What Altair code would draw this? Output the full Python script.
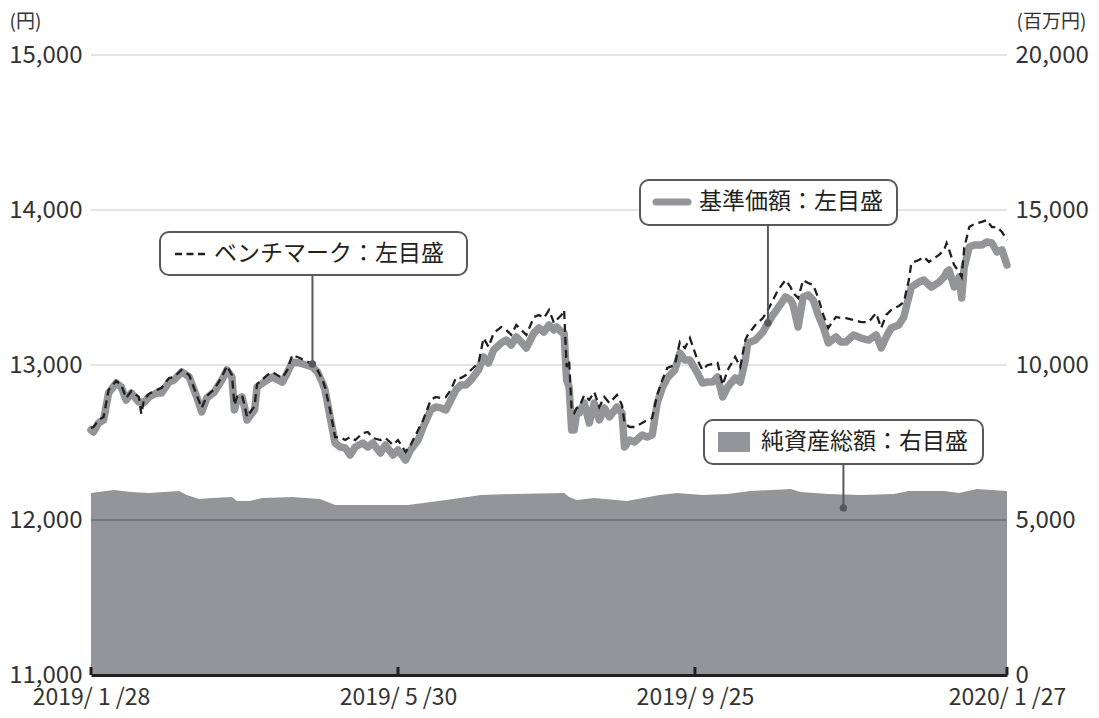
import altair as alt
import pandas as pd

FONT = "Noto Sans CJK JP"
TXT = "#231f20"
LBL = "#333333"
GRAY = "#939598"
DARK = "#58595b"

# ---- data ----
dates = [
    "2019/01/28", "2019/01/29", "2019/01/31", "2019/02/02", "2019/02/04", "2019/02/07", "2019/02/09", "2019/02/11",
    "2019/02/13", "2019/02/16", "2019/02/17", "2019/02/18", "2019/02/20", "2019/02/23", "2019/02/25", "2019/02/28",
    "2019/03/02", "2019/03/05", "2019/03/08", "2019/03/11", "2019/03/13", "2019/03/15", "2019/03/18", "2019/03/21",
    "2019/03/23", "2019/03/25", "2019/03/26", "2019/03/27", "2019/03/29", "2019/03/30", "2019/03/31",
    "2019/04/03", "2019/04/04", "2019/04/08", "2019/04/10", "2019/04/14", "2019/04/16", "2019/04/18", "2019/04/21",
    "2019/04/26", "2019/04/28", "2019/04/30",
    "2019/05/01", "2019/05/03", "2019/05/05", "2019/05/07", "2019/05/09", "2019/05/11", "2019/05/13", "2019/05/16",
    "2019/05/18", "2019/05/20", "2019/05/23", "2019/05/25", "2019/05/28", "2019/05/30",
    "2019/06/02", "2019/06/04", "2019/06/07", "2019/06/09", "2019/06/12", "2019/06/14", "2019/06/16", "2019/06/18",
    "2019/06/20", "2019/06/22", "2019/06/24", "2019/06/26", "2019/06/28",
    "2019/07/01", "2019/07/03", "2019/07/05", "2019/07/07", "2019/07/10", "2019/07/12", "2019/07/14", "2019/07/16",
    "2019/07/18", "2019/07/20", "2019/07/23", "2019/07/25", "2019/07/27", "2019/07/29", "2019/07/31",
    "2019/08/01", "2019/08/03", "2019/08/04", "2019/08/05", "2019/08/06", "2019/08/07", "2019/08/08", "2019/08/09",
    "2019/08/10", "2019/08/12", "2019/08/14", "2019/08/16", "2019/08/18", "2019/08/20", "2019/08/22", "2019/08/25",
    "2019/08/27", "2019/08/28", "2019/08/30",
    "2019/09/01", "2019/09/04", "2019/09/06", "2019/09/08", "2019/09/10", "2019/09/12", "2019/09/14", "2019/09/17",
    "2019/09/19", "2019/09/21", "2019/09/23", "2019/09/26", "2019/09/28", "2019/09/30",
    "2019/10/02", "2019/10/04", "2019/10/06", "2019/10/08", "2019/10/11", "2019/10/13", "2019/10/15", "2019/10/16",
    "2019/10/19", "2019/10/22", "2019/10/24", "2019/10/26", "2019/10/28", "2019/10/31",
    "2019/11/02", "2019/11/03", "2019/11/05", "2019/11/07", "2019/11/09", "2019/11/11", "2019/11/13", "2019/11/15",
    "2019/11/17", "2019/11/20", "2019/11/22", "2019/11/24", "2019/11/27", "2019/11/30",
    "2019/12/03", "2019/12/06", "2019/12/08", "2019/12/10", "2019/12/12", "2019/12/15", "2019/12/17", "2019/12/19",
    "2019/12/20", "2019/12/23", "2019/12/25", "2019/12/27", "2019/12/28", "2019/12/31",
    "2020/01/02", "2020/01/03", "2020/01/04", "2020/01/06", "2020/01/08", "2020/01/09", "2020/01/10", "2020/01/12",
    "2020/01/14", "2020/01/17", "2020/01/19", "2020/01/21", "2020/01/23", "2020/01/25", "2020/01/27",
]

# 基準価額 (yen)
nav = [
    12581, 12568, 12626, 12645, 12819, 12884, 12858, 12774, 12819, 12761, 12761, 12755, 12794, 12819, 12819, 12890,
    12903, 12955, 12923, 12794, 12697, 12787, 12826, 12903, 12968, 12923, 12710, 12774, 12794, 12729, 12645,
    12710, 12858, 12903, 12923, 12890, 12948, 13019, 13013, 12987, 12955, 12884,
    12839, 12665, 12497, 12471, 12465, 12419, 12471, 12497, 12471, 12497, 12432, 12484, 12419, 12452,
    12387, 12452, 12516, 12600, 12710, 12729, 12723, 12710, 12774, 12839, 12871, 12871, 12903,
    12968, 13052, 13013, 13097, 13142, 13161, 13129, 13181, 13148, 13110, 13206, 13239, 13213, 13258, 13226,
    13245, 13213, 13206, 12903, 12858, 12581, 12581, 12690, 12690, 12755, 12626, 12755, 12645, 12723, 12665, 12729,
    12690, 12471, 12516,
    12503, 12548, 12535, 12548, 12755, 12852, 12916, 12968, 13077, 13032, 13032, 12948, 12884, 12890,
    12890, 12923, 12794, 12858, 12916, 12890, 13032, 13142, 13161, 13213, 13271, 13323, 13368, 13439,
    13419, 13387, 13245, 13439, 13452, 13419, 13323, 13245, 13142, 13181, 13148, 13148, 13194, 13174,
    13161, 13194, 13110, 13181, 13239, 13258, 13310, 13439, 13503, 13535, 13548, 13516, 13503, 13535,
    13568, 13600, 13613, 13503, 13568, 13432, 13632, 13761, 13774, 13774, 13794, 13787, 13729, 13742, 13645,
]

# ベンチマーク (yen)
bench = [
    12594, 12600, 12645, 12665, 12839, 12897, 12871, 12787, 12832, 12794, 12684, 12774, 12813, 12839, 12852, 12916,
    12923, 12968, 12935, 12806, 12723, 12800, 12845, 12923, 12994, 12935, 12742, 12794, 12806, 12742, 12665,
    12735, 12877, 12935, 12955, 12916, 12968, 13065, 13045, 13006, 12968, 12903,
    12858, 12710, 12535, 12535, 12516, 12535, 12516, 12561, 12568, 12529, 12516, 12529, 12484, 12516,
    12439, 12484, 12581, 12645, 12774, 12794, 12787, 12794, 12839, 12916, 12916, 12935, 12968,
    13013, 13174, 13116, 13206, 13245, 13226, 13194, 13258, 13226, 13194, 13310, 13323, 13303, 13355, 13271,
    13290, 13323, 13355, 12987, 13032, 12710, 12690, 12723, 12729, 12806, 12774, 12826, 12729, 12794, 12755, 12806,
    12742, 12626, 12600,
    12600, 12626, 12645, 12658, 12806, 12903, 12981, 13000, 13148, 13110, 13174, 13032, 12968, 13000,
    13006, 13013, 12871, 12968, 13052, 12987, 13161, 13194, 13258, 13303, 13355, 13419, 13484, 13548,
    13503, 13465, 13432, 13548, 13529, 13516, 13432, 13323, 13239, 13310, 13303, 13303, 13290, 13277,
    13277, 13335, 13239, 13323, 13355, 13381, 13406, 13548, 13658, 13677, 13697, 13665, 13677, 13710,
    13742, 13787, 13742, 13645, 13600, 13568, 13755, 13890, 13910, 13923, 13935, 13890, 13890, 13858, 13806,
]

# 純資産総額 (million yen)
aum_dates = [
    "2019/01/28", "2019/02/06", "2019/02/13", "2019/02/20", "2019/03/04", "2019/03/07", "2019/03/12", "2019/03/17",
    "2019/03/25", "2019/03/27", "2019/04/01", "2019/04/06", "2019/04/18", "2019/04/29", "2019/05/05", "2019/05/16",
    "2019/06/03", "2019/06/12", "2019/06/18", "2019/07/02", "2019/07/15", "2019/08/04", "2019/08/06", "2019/08/09",
    "2019/08/16", "2019/08/29", "2019/09/11", "2019/09/18", "2019/09/28", "2019/10/08", "2019/10/17", "2019/11/02",
    "2019/11/06", "2019/11/17", "2019/11/30", "2019/12/13", "2019/12/19", "2020/01/02", "2020/01/08", "2020/01/15",
    "2020/01/27",
]
aum = [
    5870, 5970, 5900, 5870, 5935, 5805, 5680, 5710,
    5740, 5615, 5615, 5710, 5740, 5680, 5485, 5485,
    5485, 5580, 5645, 5805, 5840, 5870, 5740, 5645,
    5710, 5615, 5805, 5870, 5805, 5840, 5935, 6000,
    5900, 5840, 5805, 5840, 5935, 5935, 5870, 6000,
    5935,
]

assert len(dates) == len(nav) == len(bench)
assert len(aum_dates) == len(aum)

left_ticks = [11000, 12000, 13000, 14000, 15000]
right_ticks = [0, 5000, 10000, 15000, 20000]
grid_vals = [12000, 13000, 14000, 15000]
grid_cols = [DARK, "#c8c9cb", "#c8c9cb", "#c8c9cb"]
x_tick_dates = ["2019/01/28", "2019/05/30", "2019/09/25", "2020/01/27"]

# annotation anchor points (date, value)
bench_note = ("2019/04/26", 13006)
nav_note = ("2019/10/24", 13271)
aum_note = ("2019/11/23", 5390)

W, H = 916, 620

df = pd.DataFrame({"date": dates, "nav": nav, "bench": bench})
adf = pd.DataFrame({"date": aum_dates, "aum": aum})
gdf = pd.DataFrame({"v": grid_vals, "c": grid_cols})
tdf = pd.DataFrame({"date": x_tick_dates, "v": [left_ticks[0]] * len(x_tick_dates)})
ndf = pd.DataFrame({"date": [bench_note[0], nav_note[0]], "v": [bench_note[1], nav_note[1]]})
a3df = pd.DataFrame({"date": [aum_note[0]], "v": [aum_note[1]]})
one = alt.Data(values=[{"k": 1}])

xscale = alt.Scale(domain=[alt.DateTime(year=2019, month=1, date=28),
                           alt.DateTime(year=2020, month=1, date=27)])
yl = alt.Scale(domain=[11000, 15000], nice=False, zero=False)
yr = alt.Scale(domain=[0, 20000], nice=False)

LFS = 24  # tick label size

xaxis = alt.Axis(
    values=[alt.DateTime(year=2019, month=1, date=28), alt.DateTime(year=2019, month=5, date=30),
            alt.DateTime(year=2019, month=9, date=25), alt.DateTime(year=2020, month=1, date=27)],
    labelExpr="timeFormat(datum.value, '%Y') + '/ ' + (month(datum.value) + 1) + ' /' + timeFormat(datum.value, '%d')",
    ticks=False, grid=False, domain=True, domainColor=TXT, domainWidth=3, zindex=1,
    labelPadding=11, labelFontSize=23, labelColor=LBL, labelFont=FONT, title=None,
    labelFlush=False, labelOverlap=False,
)
lax = alt.Axis(
    values=left_ticks, labelExpr="format(datum.value, ',.0f')", orient="left", grid=False, ticks=False,
    domain=False, labelPadding=9, labelFontSize=LFS, labelColor=LBL, labelFont=FONT,
    title="(円)", titleAngle=0, titleX=-82, titleY=-34, titleAlign="left", titleBaseline="middle",
    titleFontSize=19, titleFontWeight="normal", titleColor=LBL, titleFont=FONT,
)
rax = alt.Axis(
    values=right_ticks, labelExpr="format(datum.value, ',.0f')", orient="right", grid=False, ticks=False,
    domain=False, labelPadding=8, labelFontSize=LFS, labelColor=LBL, labelFont=FONT,
    title="(百万円)", titleAngle=0, titleX=9, titleY=-34, titleAlign="left", titleBaseline="middle",
    titleFontSize=19, titleFontWeight="normal", titleColor=LBL, titleFont=FONT,
)

X = alt.X("date:T", scale=xscale, axis=xaxis)


def YL(field):
    return alt.Y(field, scale=yl, axis=lax)


def YR(field):
    return alt.Y(field, scale=yr, axis=rax)


# ---- right-scale group (area) ----
area = alt.Chart(adf).mark_area(color=GRAY, opacity=1, interpolate="linear").encode(x=X, y=YR("aum:Q"))
lead3 = alt.Chart(a3df).mark_rule(color=DARK, strokeWidth=2).encode(x=X, y=YR("v:Q"), y2=alt.value(408))
dot3 = alt.Chart(a3df).mark_circle(color=DARK, size=55, opacity=1).encode(x=X, y=YR("v:Q"))
right_group = alt.layer(area, lead3, dot3)

# ---- left-scale group ----
grid = alt.Chart(gdf).mark_rule(strokeWidth=1).encode(y=YL("v:Q"), color=alt.Color("c:N", scale=None))
nav_line = alt.Chart(df).mark_line(color=GRAY, strokeWidth=7.5, strokeJoin="round", strokeCap="round").encode(
    x=X, y=YL("nav:Q"))
bench_line = alt.Chart(df).mark_line(color=TXT, strokeWidth=2.3, strokeDash=[8, 5]).encode(
    x=X, y=YL("bench:Q"))
xticks = alt.Chart(tdf).mark_rule(color=TXT, strokeWidth=3).encode(x=X, y=YL("v:Q"), y2=alt.value(H - 8))
lead1 = alt.Chart(ndf.iloc[[0]]).mark_rule(color=DARK, strokeWidth=2).encode(
    x=X, y=YL("v:Q"), y2=alt.value(220))
lead2 = alt.Chart(ndf.iloc[[1]]).mark_rule(color=DARK, strokeWidth=2).encode(
    x=X, y=YL("v:Q"), y2=alt.value(170))
dots = alt.Chart(ndf).mark_circle(color=DARK, size=55, opacity=1).encode(x=X, y=YL("v:Q"))


def box(x1, x2, y1, y2):
    return alt.Chart(one).mark_rect(fill="white", stroke=DARK, strokeWidth=2, cornerRadius=9).encode(
        x=alt.value(x1), x2=alt.value(x2), y=alt.value(y1), y2=alt.value(y2))


def label(x, y, t):
    return alt.Chart(one).mark_text(align="left", baseline="middle", fontSize=23, font=FONT, color=TXT).encode(
        x=alt.value(x), y=alt.value(y), text=alt.value(t))


box1 = box(69, 376, 177, 220)
box2 = box(549, 806, 125, 170)
box3 = box(613, 892, 365, 409)
sym1 = alt.Chart(one).mark_rule(color=TXT, strokeWidth=2.3, strokeDash=[7, 4.5]).encode(
    x=alt.value(84), x2=alt.value(114), y=alt.value(199))
sym2 = alt.Chart(one).mark_rule(color=GRAY, strokeWidth=7, strokeCap="round").encode(
    x=alt.value(565), x2=alt.value(597), y=alt.value(147))
sym3 = alt.Chart(one).mark_rect(fill=GRAY).encode(
    x=alt.value(627), x2=alt.value(659), y=alt.value(377), y2=alt.value(397))
t1 = label(123, 199, "ベンチマーク：左目盛")
t2 = label(608, 147, "基準価額：左目盛")
t3 = label(670, 387, "純資産総額：右目盛")

left_group = alt.layer(grid, nav_line, bench_line, xticks, lead1, lead2, dots,
                       box1, box2, box3, sym1, sym2, sym3, t1, t2, t3)

chart = alt.layer(right_group, left_group).resolve_scale(y="independent").properties(
    width=W, height=H, autosize="none",
    padding={"left": 83, "top": 47, "right": 84, "bottom": 35},
).configure(font=FONT).configure_view(stroke=None)

chart.save("out.html", embed_options={"renderer": "svg", "actions": False})
